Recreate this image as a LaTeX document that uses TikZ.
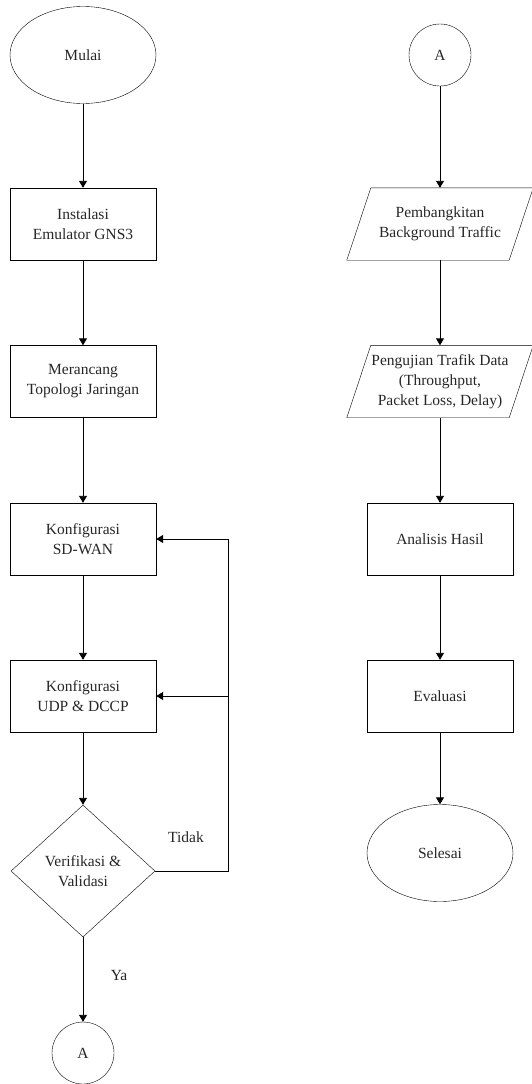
\documentclass[tikz,border=0pt]{standalone}
\usepackage{fontspec}
\setmainfont{Liberation Serif}
\newfontfamily\hurufserif{Liberation Serif}
\usetikzlibrary{arrows.meta,shapes.geometric}

\begin{document}
\begin{tikzpicture}[x=1pt,y=-1pt,
        font=\hurufserif\fontsize{15.5}{20}\selectfont, text=black!85,
        proses/.style={draw,rectangle,minimum width=146pt,minimum height=72pt,align=center},
        terminal/.style={draw,ellipse,minimum width=146pt,minimum height=97pt,align=center},
        konektor/.style={draw,circle,minimum size=62pt,inner sep=0pt},
        masukan/.style={rectangle,minimum width=162pt,minimum height=72pt,align=center},
        panah/.style={-{Triangle[width=8pt,length=7pt]},line width=0.9pt}]
        \useasboundingbox (0,0) rectangle (531,1084);
        %kolom kiri
        \node[terminal] (mulai) at (83,55) {Mulai};
        \node[proses] (instalasi) at (83,224) {Instalasi\\Emulator GNS3};
        \node[proses] (merancang) at (83,381.5) {Merancang\\Topologi Jaringan};
        \node[proses] (sdwan) at (83,539) {Konfigurasi\\SD-WAN};
        \node[proses] (udp) at (83,696) {Konfigurasi\\UDP \& DCCP};
        \node[draw,diamond,minimum width=144pt,minimum height=132pt,inner sep=0pt,align=center] (verifikasi) at (83,871) {Verifikasi \&\\Validasi};
        \node[konektor] (akiri) at (83,1053) {A};
        %kolom kanan
        \node[konektor] (akanan) at (440,55) {A};
        \node[masukan] (pembangkitan) at (440,224) {Pembangkitan\\Background Traffic};
        \node[masukan] (pengujian) at (440,381.5) {Pengujian Trafik Data\\(Throughput,\\Packet Loss, Delay)};
        \node[proses] (analisis) at (440,539) {Analisis Hasil};
        \node[proses] (evaluasi) at (440,696) {Evaluasi};
        \node[terminal] (selesai) at (440,853) {Selesai};
        %jajar genjang
        \draw ([xshift=12pt]pembangkitan.north west) -- ([xshift=12pt]pembangkitan.north east) -- ([xshift=-12pt]pembangkitan.south east) -- ([xshift=-12pt]pembangkitan.south west) -- cycle;
        \draw ([xshift=12pt]pengujian.north west) -- ([xshift=12pt]pengujian.north east) -- ([xshift=-12pt]pengujian.south east) -- ([xshift=-12pt]pengujian.south west) -- cycle;
        %panah
        \draw[panah] (mulai) -- (instalasi);
        \draw[panah] (instalasi) -- (merancang);
        \draw[panah] (merancang) -- (sdwan);
        \draw[panah] (sdwan) -- (udp);
        \draw[panah] (udp) -- (verifikasi);
        \draw[panah] (verifikasi) -- (akiri) node[pos=0.45,right=24pt] {Ya};
        \draw[panah] (akanan) -- (pembangkitan);
        \draw[panah] (pembangkitan) -- (pengujian);
        \draw[panah] (pengujian) -- (analisis);
        \draw[panah] (analisis) -- (evaluasi);
        \draw[panah] (evaluasi) -- (selesai);
        %umpan balik
        \coordinate (balikatas) at (228,539);
        \coordinate (baliktengah) at (228,696);
        \draw[panah] (verifikasi.east) -| (balikatas) -- (sdwan.east);
        \draw[panah] (baliktengah) -- (udp.east);
        \node (tidak) at (186,837) {Tidak};
    \end{tikzpicture}
\end{document}
